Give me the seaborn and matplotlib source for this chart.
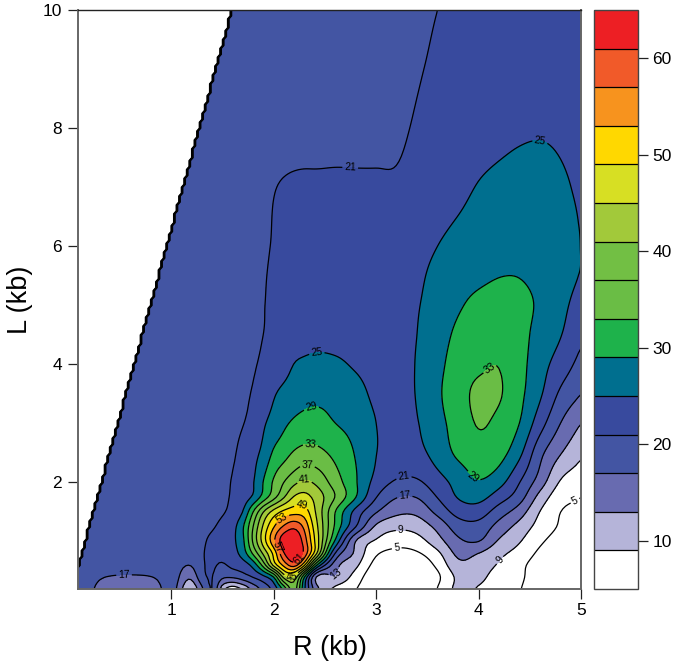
import numpy as np
import matplotlib
matplotlib.use("Agg")
import matplotlib.pyplot as plt
from matplotlib.cm import ScalarMappable
from matplotlib.colors import BoundaryNorm, ListedColormap
import seaborn as sns

r_knots = [0.09,0.3,0.6,0.87,1.0,1.2,1.3,1.4,1.5,1.6,1.7,1.8,1.9,2.0,2.1,2.2,2.3,2.4,2.6,2.8,3.0,3.2,3.4,3.6,3.8,4.0,4.2,4.4,4.6,4.8,5.0]
l_knots = [0.19,0.4,0.6,0.8,1.0,1.25,1.5,1.75,2.0,2.5,3.0,3.5,4.0,4.5,5.0,5.5,6.0,7.0,8.0,9.0,10.0]

# values: one row per L, one column per R
z_rows = [
 [19.8,16.2,15.5,16,19,9.5,16,21.5,10,6,9,14,18,22,29.5,39,25.4,16,7.8,5.1,0.5,0,0.5,5.2,10,8.6,6.8,5.2,2,1.5,1.5],
 [19.8,17.4,16.5,17.5,19.5,14,20,21.2,18,18,19.5,21.5,24,28.8,43,44,29,13.8,12.8,7.4,1.5,0.5,1,4.2,9.8,10,7.2,5.8,2.5,2,2],
 [19.8,19.8,19.8,19.8,19.6,17.3,20.6,21.4,20.6,22,23,26.5,35,47,54.5,59.5,50.5,32.5,14.8,10,3.5,1.5,2,6,12,11.2,8.6,6,3.2,2.6,2.4],
 [19.8,19.8,19.8,19.8,19.8,19.6,20.8,21.6,22,23.4,27,34,42,50,61,65,60,48.5,21,12.3,5.6,4,4.6,8.2,14,13,10,7.6,4.3,3,2.8],
 [19.8,19.8,19.8,19.8,19.8,19.9,20.6,21.6,22.6,24.2,28,37.8,47,56,64,65.5,59,49,28.5,12.8,8.5,6.4,7.4,11.4,16.2,17.2,12.5,9.3,5.6,3.5,3],
 [19.8,19.8,19.8,19.8,19.8,20,20.3,20.7,21.8,23.6,28.5,37,45.7,52.6,57.5,60,56,47.4,32.4,21.4,12.3,10,10.6,14.2,19,19.6,15.5,11.6,7.5,4.6,3.5],
 [19.8,19.8,19.8,19.8,19.8,20,20.1,20.2,20.7,22,25,33,41,46.5,50,51.4,51,45.4,33,23.6,17.4,14,14,18.2,22.5,23,19,15,8.9,5,4.2],
 [19.8,19.8,19.8,19.8,19.8,20,20,20.1,20.4,21.4,23,25.5,30.5,35.4,40.5,45.4,46.5,44,37,29.3,21.2,17.2,17.2,21.2,25.3,26.3,23,18.8,11.6,6.5,5],
 [19.8,19.8,19.8,19.8,19.8,20,20,20.1,20.4,21.2,22.8,24.7,29.2,33.6,37,40,41.7,40.5,35,29.4,23.6,20.5,20.4,23.4,26.3,28.7,26.4,21.1,15,8.6,6.5],
 [19.8,19.8,19.8,19.8,19.8,20,20,20.1,20.2,20.6,22,23.8,26,29.6,31.4,33.4,34.4,34.2,31.9,28.7,25.1,22.8,23.8,26.6,29.8,31.5,30.5,26,18.2,13.3,9.7],
 [19.9,19.9,19.9,19.9,19.9,20,20,20.1,20.2,20.3,20.9,22,24.5,26.4,28.3,29.6,30.3,30.5,29,27.6,25,23.5,24.8,27.8,30.6,33.3,32,29,22.7,17,13],
 [20,20,20,20,20,20,20,20,20.2,20.3,20.6,21.2,22.5,24.6,26,27,27.7,28,27.7,26.2,24.3,24,25.2,28.4,31.2,34,33.4,30,25.6,20.3,17],
 [20,20,20,20,20,20,20,20,20.1,20.3,20.5,20.8,21.4,22.3,23.4,25.1,25.7,26,25.6,24.6,23.9,24,25.2,28,30.6,32.2,32.9,30.3,26.6,23.2,19.7],
 [20,20,20,20,20,20,20,20,20.1,20.3,20.5,20.7,21,21.5,22,22.6,23.1,23.5,23.7,23.6,23.6,24,25,27.3,29.8,31.5,32,30.3,27.6,25.2,21.8],
 [20,20,20,20,20,20,20,20,20.1,20.3,20.5,20.7,20.95,21.3,21.7,22,22.3,22.6,23,23.1,23.3,23.9,24.8,26.4,28.5,30,30.6,30.1,28.4,26,23.5],
 [20,20,20,20,20,20,20,20,20.1,20.2,20.4,20.6,20.9,21.2,21.5,21.8,22,22.2,22.4,22.5,22.8,23.4,24.4,25.9,27.3,28.2,28.9,28.9,28,26.4,24.8],
 [20,20,20,20,20,20,20,20,20,20.1,20.3,20.5,20.8,21.1,21.4,21.6,21.8,21.9,22,22.1,22.4,22.9,23.8,25,26.2,27.2,27.9,28.1,27.8,26.6,24.9],
 [20,20,20,20,20,20,20,20,20,20,20,20.2,20.5,20.9,21.2,21.4,21.5,21.5,21.5,21.4,21.4,21.4,22.2,23,24,25.2,25.9,26.3,26.3,25.5,24.5],
 [19.7,19.7,19.7,19.7,19.7,19.7,19.7,19.7,19.7,19.7,19.7,19.7,19.7,19.7,19.7,19.7,19.7,19.7,19.9,20.1,20.2,20.5,21.3,22,22.8,23.4,24,24.5,24.7,24.5,24],
 [19.5,19.5,19.5,19.5,19.5,19.5,19.5,19.5,19.5,19.5,19.5,19.5,19.5,19.5,19.5,19.5,19.5,19.5,19.5,19.5,19.8,20.2,20.8,21.4,22,22.5,23,23.4,23.7,23.8,23.8],
 [19.5,19.5,19.5,19.5,19.5,19.5,19.5,19.5,19.5,19.5,19.5,19.5,19.5,19.5,19.5,19.5,19.5,19.5,19.5,19.5,19.5,20,20.5,21,21.5,22,22.5,23,23.3,23.5,23.5],
]

levels = [5,9,13,17,21,25,29,33,37,41,45,49,53,57,61,65]
band_colors = ["#ffffff","#b5b4d9","#686bb0","#4355a3","#384a9e","#006f8f","#1eb24b","#6abd45",
               "#72bf44","#a2c93a","#d7df23","#ffd800","#f7931e","#f15a29","#ed1f24"]
x_ticks = [1,2,3,4,5]
y_ticks = [2,4,6,8,10]
bar_ticks = [10,20,30,40,50,60]
label_spots = [(2.42,4.2),(4.6,7.78),(2.75,7.42),(2.38,3.19),(3.93,2.05),(2.36,2.66),(4.1,3.95),
               (2.33,2.31),(2.3,2.03),(2.27,1.6),(2.1,1.34),(2.03,0.9),(2.22,0.75),(2.17,0.42),
               (3.26,2.17),(3.28,1.75),(3.24,1.2),(3.2,0.9),(2.62,0.42),(4.24,0.63),(4.94,1.69),
               (0.54,0.39)]


def cubic_axis(x, y, xi):
    """Cubic through the read values along the first axis of y."""
    x = np.asarray(x, float)
    h = np.diff(x)
    d = np.diff(y, axis=0) / h[:, None]
    m = np.zeros_like(y)
    for i in range(1, len(x) - 1):
        m[i] = (h[i] * d[i - 1] + h[i - 1] * d[i]) / (h[i] + h[i - 1])
    m[0], m[-1] = d[0], d[-1]
    k = np.clip(np.searchsorted(x, xi, side="right") - 1, 0, len(x) - 2)
    t = ((xi - x[k]) / h[k])[:, None]
    hk = h[k][:, None]
    return ((2*t**3 - 3*t**2 + 1) * y[k] + (t**3 - 2*t**2 + t) * hk * m[k]
            + (-2*t**3 + 3*t**2) * y[k + 1] + (t**3 - t**2) * hk * m[k + 1])


def soften(a, width):
    """Light binomial smoothing of the resampled field along its first axis."""
    kernel = np.array([1.0])
    for _ in range(width):
        kernel = np.convolve(kernel, [0.5, 0.5])
    pad = len(kernel) // 2
    padded = np.pad(a, ((pad, pad), (0, 0)), mode="edge")
    return np.apply_along_axis(lambda c: np.convolve(c, kernel, mode="valid"), 0, padded)


sns.set_theme(style="ticks", font="Liberation Sans")
cmap = ListedColormap(sns.color_palette(band_colors))

r_fine = np.linspace(0.09, 5.0, 197)
l_fine = np.linspace(0.19, 10.0, 197)
z = np.array(z_rows, float)
z = cubic_axis(l_knots, z, l_fine)
z = cubic_axis(r_knots, z.T, r_fine).T
z = soften(z, 2)
z = soften(z.T, 2).T
z = np.clip(z, 0.0, 64.9)
rr, ll = np.meshgrid(r_fine, l_fine)
z[ll > 2 * np.pi * rr] = 0.0

fig = plt.figure(figsize=(6.76, 6.66), dpi=100)
W, H = 676, 666
ax = fig.add_axes([78/W, 1 - 589/H, 503/W, 579/H])
cax = fig.add_axes([594/W, 1 - 589/H, 44/W, 579/H])

ax.contourf(rr, ll, z, levels=[-1] + levels, colors=["#ffffff"] + band_colors)
cs = ax.contour(rr, ll, z, levels=levels, colors="black", linewidths=0.9)
ax.clabel(cs, fmt="%d", fontsize=7.5, inline=True, inline_spacing=2, manual=label_spots)
ax.set_xlim(0.09, 5.0)
ax.set_ylim(0.19, 10.0)
ax.set_xticks(x_ticks)
ax.set_yticks(y_ticks)
ax.tick_params(length=7.5, width=0.9, color="#222222", labelsize=12.5, labelcolor="black")
ax.tick_params(axis="x", pad=2.5)
ax.tick_params(axis="y", pad=4)
ax.set_xlabel("R (kb)", fontsize=19.5, color="black", labelpad=12)
ax.set_ylabel("L (kb)", fontsize=19.5, color="black", labelpad=7)
for name in ["left", "bottom", "right"]:
    ax.spines[name].set(color="#666666", linewidth=1.4, visible=True)
ax.spines["top"].set(color="#222222", linewidth=1.0, visible=True)

sm = ScalarMappable(norm=BoundaryNorm(levels, cmap.N), cmap=cmap)
cb = fig.colorbar(sm, cax=cax, spacing="proportional", drawedges=True, ticks=bar_ticks)
cb.dividers.set(color="black", linewidth=0.9)
cb.outline.set(edgecolor="#444444", linewidth=1.0)
cb.ax.minorticks_off()
cb.ax.tick_params(length=7.5, width=0.9, color="#222222", labelsize=12.5, labelcolor="black", pad=3)

fig.savefig("out.png", dpi=100)
